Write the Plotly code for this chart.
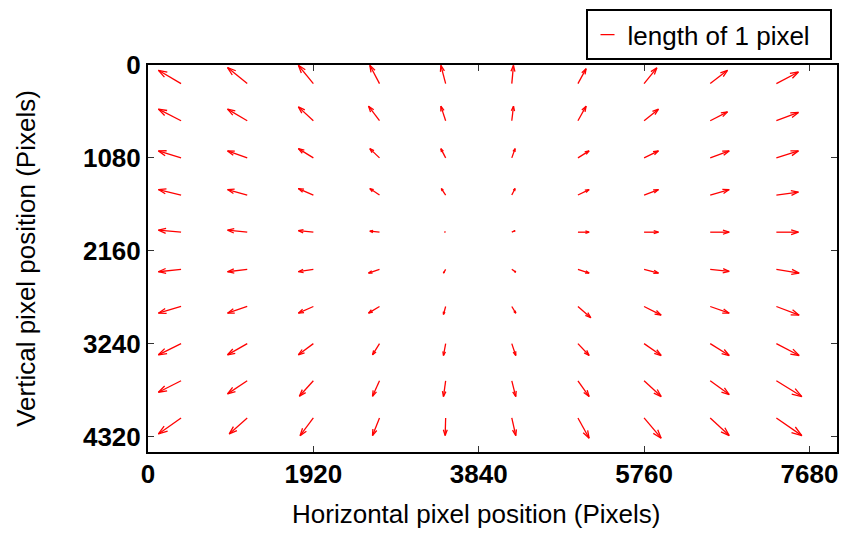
import plotly.graph_objects as go
import numpy as np

# Grid of sample points (image pixel coordinates)
x_centers = [384, 1152, 1920, 2688, 3456, 4224, 4992, 5760, 6528, 7296]
y_centers = [216, 648, 1080, 1512, 1944, 2376, 2808, 3240, 3672, 4104]

# Horizontal displacement (pixels), rows top->bottom, cols left->right
u_rows = [
    [-2.27, -1.97, -1.50, -0.97, -0.48, 0.17, 0.82, 1.28, 1.73, 2.21],
    [-2.27, -1.97, -1.50, -1.10, -0.48, 0.17, 0.82, 1.44, 1.73, 2.21],
    [-2.27, -1.97, -1.50, -0.97, -0.48, 0.33, 1.12, 1.44, 1.90, 2.21],
    [-2.27, -1.97, -1.50, -0.97, -0.43, 0.33, 1.12, 1.44, 1.90, 2.21],
    [-2.27, -1.97, -1.50, -0.97, -0.10, 0.33, 1.12, 1.44, 1.90, 2.21],
    [-2.27, -1.97, -1.50, -1.10, -0.22, 0.40, 1.12, 1.44, 1.90, 2.28],
    [-2.27, -1.97, -1.50, -1.10, -0.22, 0.40, 1.29, 1.71, 1.90, 2.28],
    [-2.27, -1.97, -1.50, -0.70, -0.22, 0.40, 1.12, 1.71, 1.90, 2.28],
    [-2.27, -1.97, -1.40, -0.70, -0.22, 0.40, 1.12, 1.71, 1.90, 2.55],
    [-2.27, -1.80, -1.33, -0.70, -0.05, 0.40, 1.12, 1.71, 1.90, 2.55],
]
# Vertical displacement (pixels, positive = downward)
v_rows = [
    [-1.33, -1.60, -1.83, -1.83, -1.83, -1.83, -1.50, -1.58, -1.33, -1.16],
    [-1.16, -1.16, -1.39, -1.46, -1.46, -1.46, -1.46, -1.16, -0.89, -0.83],
    [-0.70, -0.70, -0.93, -0.93, -0.93, -0.93, -0.70, -0.70, -0.70, -0.70],
    [-0.55, -0.55, -0.65, -0.65, -0.65, -0.65, -0.55, -0.55, -0.55, -0.30],
    [-0.20, -0.20, -0.15, -0.10, -0.02, -0.15, 0.00, 0.00, 0.00, 0.00],
    [0.24, 0.24, 0.24, 0.38, 0.38, 0.28, 0.38, 0.38, 0.21, 0.38],
    [0.67, 0.67, 0.67, 0.67, 0.80, 0.67, 1.13, 0.87, 0.67, 0.87],
    [1.12, 1.12, 1.12, 1.12, 1.19, 1.19, 1.19, 1.19, 1.19, 1.19],
    [1.15, 1.31, 1.55, 1.55, 1.58, 1.58, 1.58, 1.58, 1.38, 1.58],
    [1.60, 1.60, 1.77, 1.77, 1.77, 1.77, 2.03, 2.03, 1.77, 1.77],
]

x_ticks = [0, 1920, 3840, 5760, 7680]
y_ticks = [0, 1080, 2160, 3240, 4320]
legend_label = "length of 1 pixel"
x_title = "Horizontal pixel position (Pixels)"
y_title = "Vertical pixel position (Pixels)"

ARROW_SCALE = 116.0  # data units drawn per pixel of displacement
HEAD_ALPHA = 0.33
HEAD_BETA = 0.33

xs, ys = [], []
for i, yc in enumerate(y_centers):
    for j, xc in enumerate(x_centers):
        du = u_rows[i][j] * ARROW_SCALE
        dv = v_rows[i][j] * ARROW_SCALE
        hx, hy = xc + du, yc + dv
        xs += [xc, hx, None]
        ys += [yc, hy, None]
        # arrow head barbs
        b1x = hx - HEAD_ALPHA * (du + HEAD_BETA * dv)
        b1y = hy - HEAD_ALPHA * (dv - HEAD_BETA * du)
        b2x = hx - HEAD_ALPHA * (du - HEAD_BETA * dv)
        b2y = hy - HEAD_ALPHA * (dv + HEAD_BETA * du)
        xs += [b1x, hx, b2x, None]
        ys += [b1y, hy, b2y, None]

fig = go.Figure()
fig.add_trace(go.Scatter(x=xs, y=ys, mode="lines",
                         line=dict(color="#ff0000", width=1.3),
                         showlegend=False, hoverinfo="skip"))
fig.add_trace(go.Scatter(x=[None], y=[None], mode="markers",
                         name=legend_label + "\u00a0\u00a0",
                         marker=dict(symbol="line-ew", size=10,
                                     line=dict(color="#ff0000", width=1.2)),
                         showlegend=True))

axis_common = dict(showgrid=False, zeroline=False, showline=True, linecolor="black",
                   linewidth=2, mirror="ticks", ticks="inside", ticklen=6,
                   tickcolor="#333333", tickwidth=1,
                   tickfont=dict(family="Liberation Sans, Arial", size=26, color="black",
                                 weight="bold"))

fig.update_layout(
    width=843, height=537,
    margin=dict(l=148, r=6, t=65, b=85, autoexpand=False),
    paper_bgcolor="white", plot_bgcolor="white",
    font=dict(family="Liberation Sans, Arial", color="black"),
    xaxis=dict(range=[0, 8000], tickvals=x_ticks, ticktext=[str(v) for v in x_ticks],
               ticklabelstandoff=-2,
               **axis_common),
    yaxis=dict(range=[4500, 0], tickvals=y_ticks, ticktext=[str(v) for v in y_ticks],
               title=dict(text=y_title, font=dict(size=26), standoff=40),
               **axis_common),
    legend=dict(x=0.635, y=1.144, xanchor="left", yanchor="top",
                bgcolor="white", bordercolor="black", borderwidth=2,
                font=dict(size=26, family="Liberation Sans, Arial")),
    annotations=[dict(text=x_title, xref="paper", yref="paper", x=0.476, y=-0.16,
                      xanchor="center", yanchor="middle", showarrow=False,
                      font=dict(size=26, family="Liberation Sans, Arial", color="black"))],
)

fig.write_html(
    "out.html",
    config={"displayModeBar": False},
    post_script="document.documentElement.style.margin='0';"
                "document.body.style.margin='0';"
                "document.body.style.overflow='hidden';",
)
